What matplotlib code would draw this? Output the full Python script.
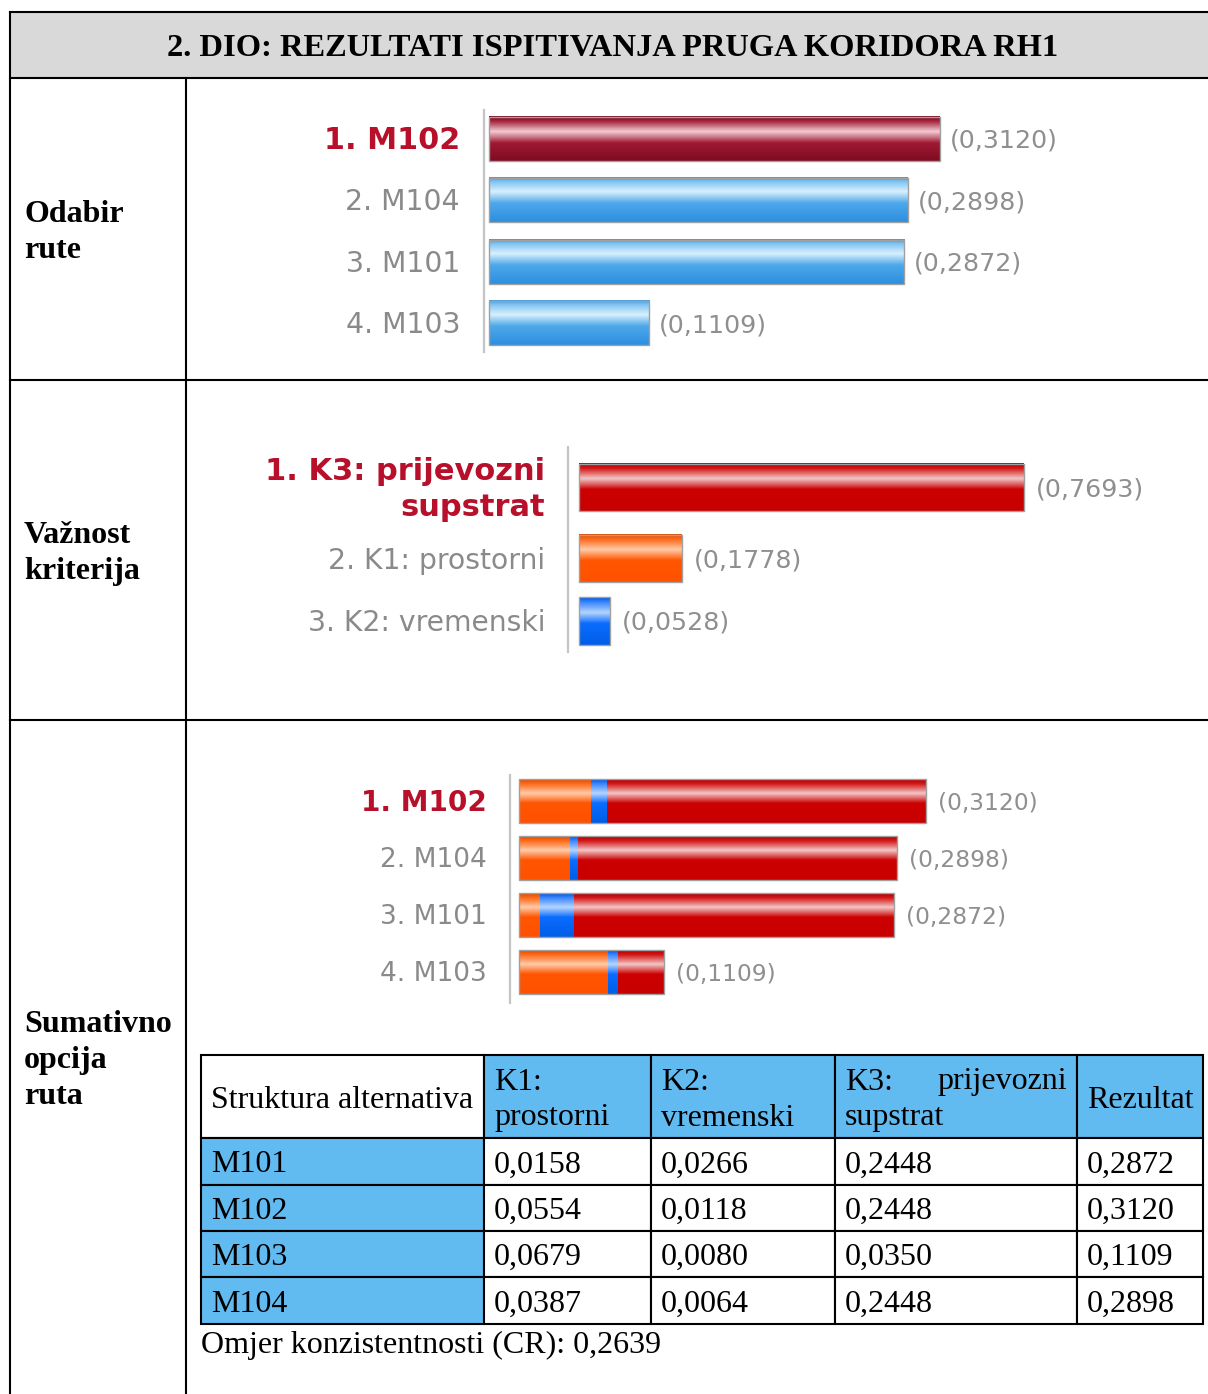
import numpy as np
import matplotlib
matplotlib.use('Agg')
import matplotlib.pyplot as plt
from matplotlib.colors import LinearSegmentedColormap
from matplotlib.patches import Rectangle

plt.rcParams['font.family'] = ['DejaVu Sans']

# podaci
title = '2. DIO: REZULTATI ISPITIVANJA PRUGA KORIDORA RH1'
row_titles = [['Odabir', 'rute'], ['Važnost', 'kriterija'], ['Sumativno', 'opcija', 'ruta']]

alternatives = ['M101', 'M102', 'M103', 'M104']
k1_values = [0.0158, 0.0554, 0.0679, 0.0387]
k2_values = [0.0266, 0.0118, 0.0080, 0.0064]
k3_values = [0.2448, 0.2448, 0.0350, 0.2448]
results = [0.2872, 0.3120, 0.1109, 0.2898]

criteria = ['K3: prijevozni\nsupstrat', 'K1: prostorni', 'K2: vremenski']
criteria_weights = [0.7693, 0.1778, 0.0528]

table_header = ['Struktura alternativa', 'K1:\nprostorni', 'K2:\nvremenski',
                'K3: prijevozni\nsupstrat', 'Rezultat']
consistency_ratio = 0.2639

W, H = 1208, 1394
SERIF = 'Liberation Serif'
BASE = 11  # pomak od sredine do osnovne linije (px)
fig = plt.figure(figsize=(W / 100, H / 100), dpi=100)


def fmt(v):
    return f'{v:.4f}'.replace('.', ',')


def fig_rect(x0, y0, x1, y1):
    return [x0 / W, 1 - y1 / H, (x1 - x0) / W, (y1 - y0) / H]


# stilovi sjajnih traka (gradijent odozgo prema dolje)
red_dark = [(0, '#7d0c22'), (0.1, '#a3213a'), (0.34, '#f3cbd3'), (0.6, '#a01933'), (1, '#7e0b22')]
blue_light = [(0, '#3d9be2'), (0.1, '#84c5f2'), (0.32, '#d8f0fd'), (0.58, '#4ea8ea'), (1, '#2d8fe0')]
red = [(0, '#b00000'), (0.1, '#d41818'), (0.32, '#f2c6c6'), (0.55, '#cc0000'), (1, '#c80000')]
orange = [(0, '#e04a00'), (0.1, '#ff6a1a'), (0.32, '#ffcaa8'), (0.55, '#ff5500'), (1, '#ff5200')]
blue = [(0, '#0055dd'), (0.1, '#3b86ff'), (0.32, '#b5d4ff'), (0.55, '#0a6cff'), (1, '#005ee6')]

RANK1 = '#b80f2a'
GRAY = '#8a8a8a'


def gloss_bar(ax, left, width, y, height, style, edge=True):
    cmap = LinearSegmentedColormap.from_list('g', style)
    grad = np.linspace(0, 1, 64).reshape(-1, 1)
    ax.imshow(grad, cmap=cmap, aspect='auto', interpolation='bilinear',
              extent=(left, left + width, y + height / 2, y - height / 2), zorder=2)
    if edge:
        ax.add_patch(Rectangle((left, y - height / 2), width, height, fill=False,
                               edgecolor='#a0a0a0', lw=1.0, zorder=3))


def chart_axes(x_axis, top, bottom, px_per_unit, pad):
    ax = fig.add_axes(fig_rect(x_axis, top, W, bottom))
    ax.patch.set_visible(False)
    for s in ['top', 'right', 'bottom']:
        ax.spines[s].set_visible(False)
    ax.spines['left'].set_color('#c4c4c4')
    ax.spines['left'].set_linewidth(1.6)
    ax.set_xticks([])
    ax.set_yticks([])
    ax.set_xlim(-pad / px_per_unit, (W - x_axis - pad) / px_per_unit)
    return ax


def rank_label(ax, y, text, first, size_bold, size_reg, off):
    ax.annotate(text, xy=(0, y), xycoords=('axes fraction', 'data'),
                xytext=(-off, -2), textcoords='offset pixels', ha='right', va='center',
                fontsize=size_bold if first else size_reg,
                fontweight='bold' if first else 'normal',
                color=RANK1 if first else GRAY, linespacing=1.3)


def value_label(ax, x, y, v, size, off):
    ax.annotate(f'({fmt(v)})', xy=(x, y), xytext=(off, -2), textcoords='offset pixels',
                ha='left', va='center', fontsize=size, color='#8f8f8f')


def serif(x, y, s, ha='left', bold=False, size=23):
    bg.text(x, y + BASE, s, ha=ha, va='baseline', fontsize=size,
            fontweight='bold' if bold else 'normal', family=SERIF)


# pozadina: okvir tablice
bg = fig.add_axes([0, 0, 1, 1])
bg.set_xlim(0, W)
bg.set_ylim(H, 0)
bg.set_axis_off()

section_edges = [78, 380, 720, H]
bg.add_patch(Rectangle((10, 12), W - 10, 66, facecolor='#d9d9d9', edgecolor='none'))
for y in [12] + section_edges[:-1]:
    bg.plot([10, W], [y, y], color='black', lw=1.5)
bg.plot([10, 10], [12, H], color='black', lw=1.5)
bg.plot([186, 186], [78, H], color='black', lw=1.5)
serif(613, 45, title, ha='center', bold=True, size=23.4)

for i, lines in enumerate(row_titles):
    yc = (section_edges[i] + section_edges[i + 1]) / 2
    for j, line in enumerate(lines):
        serif(24, yc + (j - (len(lines) - 1) / 2) * 36.5, line, bold=True)

# 1. Odabir rute
order = list(np.argsort(results)[::-1])
ax1 = chart_axes(484, 110, 352, 1445, 5)
for i, idx in enumerate(order):
    gloss_bar(ax1, 0, results[idx], i, 0.72, red_dark if i == 0 else blue_light)
    rank_label(ax1, i, f'{i + 1}. {alternatives[idx]}', i == 0, 21.8, 20.4, 24)
    value_label(ax1, results[idx], i, results[idx], 18.2, 10)
ax1.set_ylim(len(order) - 0.53, -0.47)

# 2. Važnost kriterija
row_h = np.array([1 + 0.3 * c.count('\n') for c in criteria])
centers = np.cumsum(row_h) - row_h / 2
ax2 = chart_axes(568, 447, 652, 578, 11)
crit_styles = [red, orange, blue]
for i, (c, w) in enumerate(zip(criteria, criteria_weights)):
    gloss_bar(ax2, 0, w, centers[i], 0.76, crit_styles[i])
    rank_label(ax2, centers[i], f'{i + 1}. {c}', i == 0, 22, 20.3, 23)
    value_label(ax2, w, centers[i], w, 18.3, 12)
ax2.set_ylim(row_h.sum(), 0)

# 3. Sumativno
ax3 = chart_axes(510, 775, 1003, 1305, 9)
for i, idx in enumerate(order):
    left = 0
    for vals, st in [(k1_values, orange), (k2_values, blue), (k3_values, red)]:
        gloss_bar(ax3, left, vals[idx], i, 0.77, st, edge=False)
        left += vals[idx]
    ax3.add_patch(Rectangle((0, i - 0.385), left, 0.77, fill=False,
                            edgecolor='#a0a0a0', lw=1.0, zorder=3))
    rank_label(ax3, i, f'{i + 1}. {alternatives[idx]}', i == 0, 20.1, 19, 23)
    value_label(ax3, left, i, results[idx], 16.8, 12)
ax3.set_ylim(len(order) - 0.46, -0.46)

# tablica strukture alternativa
col_edges = [201, 484, 651, 835, 1077, 1203]
row_edges = [1055, 1138, 1185, 1231, 1277, 1324]
CELL_BLUE = '#62bbf0'
cells = [table_header] + [[a, fmt(k1), fmt(k2), fmt(k3), fmt(r)] for a, k1, k2, k3, r in
                          zip(alternatives, k1_values, k2_values, k3_values, results)]
for r, row in enumerate(cells):
    y0, y1 = row_edges[r], row_edges[r + 1]
    for c, txt in enumerate(row):
        x0, x1 = col_edges[c], col_edges[c + 1]
        blue_cell = (r == 0) != (c == 0)
        bg.add_patch(Rectangle((x0, y0), x1 - x0, y1 - y0,
                               facecolor=CELL_BLUE if blue_cell else 'white',
                               edgecolor='black', lw=1.5))
        lines = txt.split('\n')
        yc = (y0 + y1) / 2
        for j, line in enumerate(lines):
            ly = yc + (j - (len(lines) - 1) / 2) * 36
            words = line.split(' ')
            if len(lines) > 1 and len(words) > 1:
                # obostrano poravnanje
                serif(x0 + 10, ly, words[0])
                serif(x1 - 10, ly, words[-1], ha='right')
            else:
                serif(x0 + 10, ly, line)

serif(201, 1342, f'Omjer konzistentnosti (CR): {fmt(consistency_ratio)}')

fig.savefig('out.png', dpi=100)
